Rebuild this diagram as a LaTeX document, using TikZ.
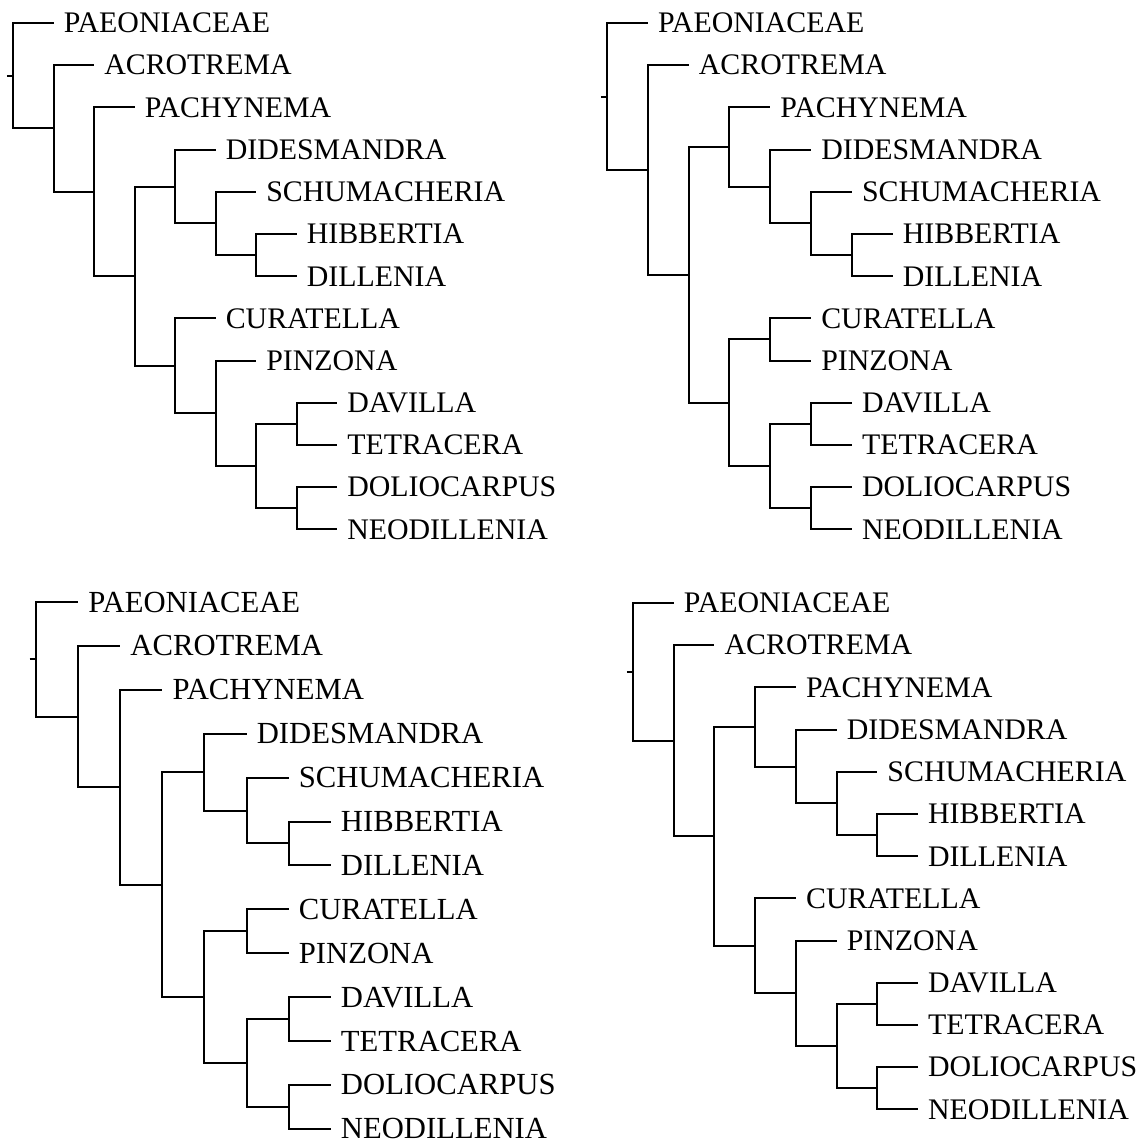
\documentclass[tikz,border=0pt]{standalone}
\usepackage{fontspec}
\setmainfont{Liberation Serif}
\usepackage{tikz}
\usetikzlibrary{calc}

\begin{document}
\begin{tikzpicture}[
    x=0.75pt, y=-0.75pt,
    branch/.style={line width=1.5pt, black},
    taxon/.style={anchor=west, inner xsep=7.5pt, inner ysep=0pt,
                  font=\fontsize{22.4pt}{26pt}\selectfont},
    bigtaxon/.style={taxon, font=\fontsize{23pt}{27pt}\selectfont}
  ]
    \useasboundingbox (0,0) rectangle (1148,1144);

    % tree A (top left)
    \begin{scope}[shift={(13,23)}, x=30.375pt, y=-31.65pt]
      \foreach \nm/\lv/\i/\txt in {paeon/1/0/PAEONIACEAE, acro/2/1/ACROTREMA,
          pachy/3/2/PACHYNEMA, dides/5/3/DIDESMANDRA, schu/6/4/SCHUMACHERIA,
          hibb/7/5/HIBBERTIA, dill/7/6/DILLENIA, cura/5/7/CURATELLA,
          pinz/6/8/PINZONA, dav/8/9/DAVILLA, tet/8/10/TETRACERA,
          dol/8/11/DOLIOCARPUS, neo/8/12/NEODILLENIA} {
        \node[taxon] (A-\nm) at (\lv,\i) {\txt};
      }
      \foreach \nm/\lv/\i in {A1/0/1.25, A2/1/2.5, A3/2/4, A4/3/6, A5/4/3.875,
          A6/5/4.75, A7/6/5.5, A8/4/8.125, A9/5/9.25, A10/6/10.5,
          A11/7/9.5, A12/7/11.5} {
        \coordinate (\nm) at (\lv,\i);
      }
      \coordinate (A0) at (-0.15,1.25);
      \draw[branch] (A0) -- (A1);
      \foreach \p/\c in {A1/A-paeon.west, A1/A2, A2/A-acro.west, A2/A3,
          A3/A-pachy.west, A3/A4, A4/A5, A4/A8, A5/A-dides.west, A5/A6,
          A6/A-schu.west, A6/A7, A7/A-hibb.west, A7/A-dill.west,
          A8/A-cura.west, A8/A9, A9/A-pinz.west, A9/A10, A10/A11, A10/A12,
          A11/A-dav.west, A11/A-tet.west, A12/A-dol.west, A12/A-neo.west} {
        \draw[branch] (\p) |- (\c);
      }
    \end{scope}

    % tree B (top right)
    \begin{scope}[shift={(607,23)}, x=30.6pt, y=-31.65pt]
      \foreach \nm/\lv/\i/\txt in {paeon/1/0/PAEONIACEAE, acro/2/1/ACROTREMA,
          pachy/4/2/PACHYNEMA, dides/5/3/DIDESMANDRA, schu/6/4/SCHUMACHERIA,
          hibb/7/5/HIBBERTIA, dill/7/6/DILLENIA, cura/5/7/CURATELLA,
          pinz/5/8/PINZONA, dav/6/9/DAVILLA, tet/6/10/TETRACERA,
          dol/6/11/DOLIOCARPUS, neo/6/12/NEODILLENIA} {
        \node[taxon] (B-\nm) at (\lv,\i) {\txt};
      }
      \foreach \nm/\lv/\i in {B1/0/1.7422, B2/1/3.4844, B3/2/5.9688,
          B4/3/2.9375, B5/4/3.875, B6/5/4.75, B7/6/5.5, B8/3/9, B9/4/7.5,
          B10/4/10.5, B11/5/9.5, B12/5/11.5} {
        \coordinate (\nm) at (\lv,\i);
      }
      \coordinate (B0) at (-0.15,1.7422);
      \draw[branch] (B0) -- (B1);
      \foreach \p/\c in {B1/B-paeon.west, B1/B2, B2/B-acro.west, B2/B3,
          B3/B4, B3/B8, B4/B-pachy.west, B4/B5, B5/B-dides.west, B5/B6,
          B6/B-schu.west, B6/B7, B7/B-hibb.west, B7/B-dill.west,
          B8/B9, B8/B10, B9/B-cura.west, B9/B-pinz.west, B10/B11, B10/B12,
          B11/B-dav.west, B11/B-tet.west, B12/B-dol.west, B12/B-neo.west} {
        \draw[branch] (\p) |- (\c);
      }
    \end{scope}

    % tree C (bottom left)
    \begin{scope}[shift={(36,602)}, x=31.575pt, y=-32.925pt]
      \foreach \nm/\lv/\i/\txt in {paeon/1/0/PAEONIACEAE, acro/2/1/ACROTREMA,
          pachy/3/2/PACHYNEMA, dides/5/3/DIDESMANDRA, schu/6/4/SCHUMACHERIA,
          hibb/7/5/HIBBERTIA, dill/7/6/DILLENIA, cura/6/7/CURATELLA,
          pinz/6/8/PINZONA, dav/7/9/DAVILLA, tet/7/10/TETRACERA,
          dol/7/11/DOLIOCARPUS, neo/7/12/NEODILLENIA} {
        \node[bigtaxon] (C-\nm) at (\lv,\i) {\txt};
      }
      \foreach \nm/\lv/\i in {C1/0/1.3047, C2/1/2.6094, C3/2/4.2188,
          C4/3/6.4375, C5/4/3.875, C6/5/4.75, C7/6/5.5, C8/4/9, C9/5/7.5,
          C10/5/10.5, C11/6/9.5, C12/6/11.5} {
        \coordinate (\nm) at (\lv,\i);
      }
      \coordinate (C0) at (-0.15,1.3047);
      \draw[branch] (C0) -- (C1);
      \foreach \p/\c in {C1/C-paeon.west, C1/C2, C2/C-acro.west, C2/C3,
          C3/C-pachy.west, C3/C4, C4/C5, C4/C8, C5/C-dides.west, C5/C6,
          C6/C-schu.west, C6/C7, C7/C-hibb.west, C7/C-dill.west,
          C8/C9, C8/C10, C9/C-cura.west, C9/C-pinz.west, C10/C11, C10/C12,
          C11/C-dav.west, C11/C-tet.west, C12/C-dol.west, C12/C-neo.west} {
        \draw[branch] (\p) |- (\c);
      }
    \end{scope}

    % tree D (bottom right)
    \begin{scope}[shift={(633,603)}, x=30.525pt, y=-31.65pt]
      \foreach \nm/\lv/\i/\txt in {paeon/1/0/PAEONIACEAE, acro/2/1/ACROTREMA,
          pachy/4/2/PACHYNEMA, dides/5/3/DIDESMANDRA, schu/6/4/SCHUMACHERIA,
          hibb/7/5/HIBBERTIA, dill/7/6/DILLENIA, cura/4/7/CURATELLA,
          pinz/5/8/PINZONA, dav/7/9/DAVILLA, tet/7/10/TETRACERA,
          dol/7/11/DOLIOCARPUS, neo/7/12/NEODILLENIA} {
        \node[taxon] (D-\nm) at (\lv,\i) {\txt};
      }
      \foreach \nm/\lv/\i in {D1/0/1.6328, D2/1/3.2656, D3/2/5.5313,
          D4/3/2.9375, D5/4/3.875, D6/5/4.75, D7/6/5.5, D8/3/8.125,
          D9/4/9.25, D10/5/10.5, D11/6/9.5, D12/6/11.5} {
        \coordinate (\nm) at (\lv,\i);
      }
      \coordinate (D0) at (-0.15,1.6328);
      \draw[branch] (D0) -- (D1);
      \foreach \p/\c in {D1/D-paeon.west, D1/D2, D2/D-acro.west, D2/D3,
          D3/D4, D3/D8, D4/D-pachy.west, D4/D5, D5/D-dides.west, D5/D6,
          D6/D-schu.west, D6/D7, D7/D-hibb.west, D7/D-dill.west,
          D8/D-cura.west, D8/D9, D9/D-pinz.west, D9/D10, D10/D11, D10/D12,
          D11/D-dav.west, D11/D-tet.west, D12/D-dol.west, D12/D-neo.west} {
        \draw[branch] (\p) |- (\c);
      }
    \end{scope}
  \end{tikzpicture}
\end{document}
